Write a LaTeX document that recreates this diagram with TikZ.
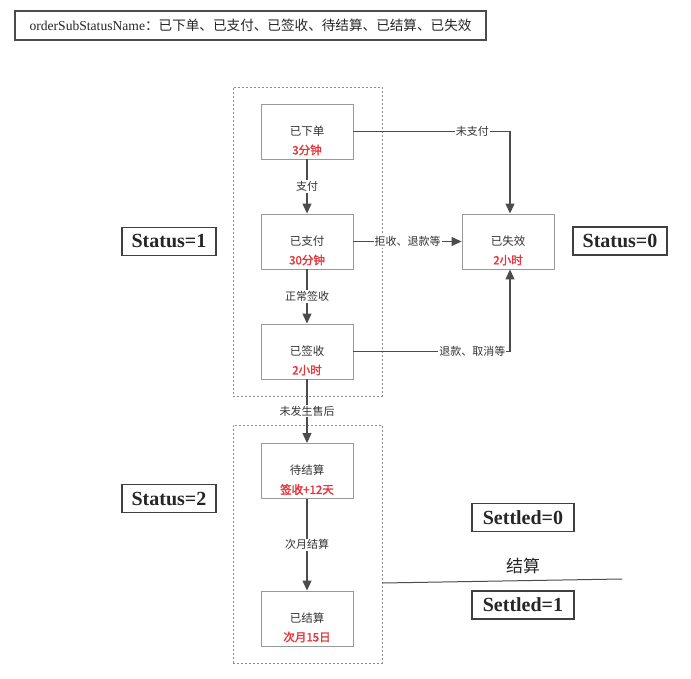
\documentclass[tikz,border=0pt]{standalone}
\usepackage{fontspec}
\setmainfont{Noto Sans CJK SC}[AutoFakeBold=2]
\newfontfamily\lserif{Liberation Serif}
\usetikzlibrary{arrows.meta}
\definecolor{redtxt}{HTML}{E8353B}
\definecolor{txtgray}{HTML}{333333}
\begin{document}
\begin{tikzpicture}[x=1pt,y=-1pt,
  flowbox/.style={draw=black!40, line width=0.9pt, minimum width=92pt, minimum height=55pt, fill=white},
  boxtxt/.style={align=center, text=txtgray, font=\fontsize{11.5}{19}\selectfont, inner sep=0pt},
  statbox/.style={draw=black!75, line width=1.3pt, minimum width=94pt, minimum height=28pt, inner sep=0pt, text=black!85, font=\lserif\bfseries\fontsize{20}{20}\selectfont},
  grp/.style={draw=black!45, line width=0.8pt, dash pattern=on 2pt off 2pt},
  edge/.style={draw=black!70, line width=1.2pt, -{Triangle[length=10pt,width=9pt]}},
  plain/.style={draw=black!70, line width=1.2pt},
  elabel/.style={fill=white, text=black!80, font=\fontsize{11}{12}\selectfont, inner sep=1pt}]
\useasboundingbox (0,0) rectangle (691,679);
% title
\node[draw=black!70, line width=1.2pt, minimum width=471pt, minimum height=29pt, inner sep=0pt, text=black!85,
      font=\fontsize{13.6}{13.6}\selectfont] (title) at (250.5,25.5)
  {{\lserif orderSubStatusName}：已下单、已支付、已签收、待结算、已结算、已失效};
% groups
\node[grp, minimum width=149pt, minimum height=309pt, inner sep=0pt] (g1) at (307.5,241.5) {};
\node[grp, minimum width=149pt, minimum height=238pt, inner sep=0pt] (g2) at (307.5,544) {};
% flow boxes
\node[flowbox] (xd) at (307,131.5) {};
\node[boxtxt] (xdt) at ([yshift=-9pt]xd.center) {已下单\\{\color{redtxt}\bfseries 3分钟}};
\node[flowbox] (zf) at (307,241.5) {};
\node[boxtxt] (zft) at ([yshift=-9pt]zf.center) {已支付\\{\color{redtxt}\bfseries 30分钟}};
\node[flowbox] (qs) at (307,351.5) {};
\node[boxtxt] (qst) at ([yshift=-9pt]qs.center) {已签收\\{\color{redtxt}\bfseries 2小时}};
\node[flowbox] (sx) at (508,241.5) {};
\node[boxtxt] (sxt) at ([yshift=-9pt]sx.center) {已失效\\{\color{redtxt}\bfseries 2小时}};
\node[flowbox] (djs) at (307,471) {};
\node[boxtxt] (djst) at ([yshift=-9pt]djs.center) {待结算\\{\color{redtxt}\bfseries 签收+12天}};
\node[flowbox] (yjs) at (307,618.5) {};
\node[boxtxt] (yjst) at ([yshift=-9pt]yjs.center) {已结算\\{\color{redtxt}\bfseries 次月15日}};
% status boxes
\node[statbox] (s1) at (169,241.5) {Status=1};
\node[statbox] (s0) at (620,241) {Status=0};
\node[statbox] (s2) at (169,498.5) {Status=2};
\node[statbox, minimum width=102pt] (st0) at (523,517.5) {Settled=0};
\node[statbox, minimum width=102pt] (st1) at (523,605) {Settled=1};
% connectors
\draw[edge] (xd.east) -| ([xshift=2pt]sx.north) node[elabel, pos=0.38] {未支付};
\draw[edge] (xd) -- (zf) node[elabel, midway] {支付};
\draw[edge] (zf) -- (sx) node[elabel, midway] {拒收、退款等};
\draw[edge] (zf) -- (qs) node[elabel, midway] {正常签收};
\draw[edge] (qs.east) -| ([xshift=2pt]sx.south) node[elabel, pos=0.38] {退款、取消等};
\draw[edge] (qs) -- (djs) node[elabel, midway] {未发生售后};
\draw[edge] (djs) -- (yjs) node[elabel, midway] {次月结算};
% settled divider
\coordinate (d1) at (g2.east |- 0,583);
\coordinate (d2) at (622,579);
\draw[plain, line width=1pt] (d1) -- (d2);
\node[text=black!85, font=\fontsize{17}{17}\selectfont] (js) at (523,566) {结算};
\end{tikzpicture}
\end{document}
